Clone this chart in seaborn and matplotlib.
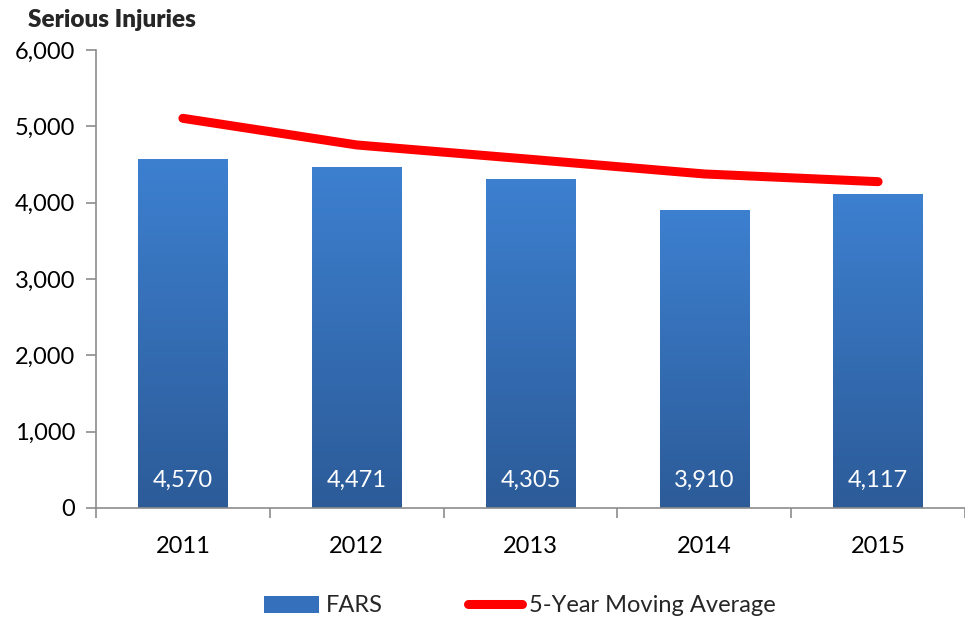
import matplotlib
matplotlib.use("Agg")
import matplotlib.pyplot as plt
import seaborn as sns
import numpy as np
import pandas as pd
from matplotlib.colors import LinearSegmentedColormap
from matplotlib.lines import Line2D
from matplotlib.patches import Patch

years = ["2011", "2012", "2013", "2014", "2015"]
fars = [4570, 4471, 4305, 3910, 4117]
moving_avg = [5105, 4756, 4568, 4376, 4275]
yticks = [0, 1000, 2000, 3000, 4000, 5000, 6000]

sns.set_theme(style="white")
plt.rcParams['font.family'] = ['Lato', 'DejaVu Sans']

fig = plt.figure(figsize=(9.65, 6.2), dpi=100)
ax = fig.add_axes([96/965, 1-508/620, 1-96/965, (508-50)/620])

df = pd.DataFrame({"year": years, "FARS": fars, "avg": moving_avg})
sns.barplot(data=df, x="year", y="FARS", ax=ax, color="#3a78c6", width=0.514,
            saturation=1, zorder=2)

# gradient fill for bars
cmap = LinearSegmentedColormap.from_list("g", ["#2c5b98", "#3d80d0"])
grad = np.linspace(0, 1, 256).reshape(-1, 1)
for p in ax.patches:
    x0, y0 = p.get_x(), p.get_y()
    w, h = p.get_width(), p.get_height()
    im = ax.imshow(grad, cmap=cmap, aspect="auto", origin="lower",
                   extent=[x0, x0 + w, y0, y0 + h], zorder=2.1)
    im.set_clip_path(p)

sns.lineplot(x=list(range(len(years))), y=moving_avg, ax=ax, color="#ff0000",
             linewidth=6.5, solid_capstyle="round", zorder=3)

for i, v in enumerate(fars):
    ax.text(i, 360, f"{v:,}", ha="center", va="center", color="white",
            fontsize=17, zorder=4)

ax.set_xlim(-0.5, 4.5 - 6/175)
ax.set_ylim(0, 6000)
ax.set_yticks(yticks)
ax.set_yticklabels([f"{t:,}" for t in yticks], fontsize=17, color="black")
ax.set_xticks(range(len(years)))
ax.set_xticklabels(years, fontsize=17, color="black")
ax.set_xlabel("")
ax.set_ylabel("")

for s in ["top", "right"]:
    ax.spines[s].set_visible(False)
for s in ["left", "bottom"]:
    ax.spines[s].set_color("#8c8c8c")
    ax.spines[s].set_linewidth(1.2)

ax.tick_params(axis="y", which="major", left=True, length=7, width=1.2,
               color="#8c8c8c", pad=8)
ax.tick_params(axis="x", which="major", bottom=False, pad=14)
# category boundary ticks on x axis
ax.set_xticks([-0.5, 0.5, 1.5, 2.5, 3.5, 4.5], minor=True)
ax.tick_params(axis="x", which="minor", bottom=True, length=7, width=1.2,
               color="#8c8c8c", direction="out")

fig.text(28/965, 1-20/620, "Serious Injuries", fontsize=17.5, fontweight="heavy",
         ha="left", va="center")

handles = [Patch(facecolor="#3470bb", edgecolor="none", label="FARS"),
           Line2D([0], [0], color="#ff0000", linewidth=6.5,
                  solid_capstyle="round", label="5-Year Moving Average")]
fig.legend(handles=handles, loc="center", bbox_to_anchor=(520/965, 1-606/620),
           ncol=2, frameon=False, fontsize=17, handlelength=2.3,
           handletextpad=0.3, columnspacing=3.6, handleheight=0.75,
           borderpad=0.0)

fig.savefig("out.png", dpi=100)
